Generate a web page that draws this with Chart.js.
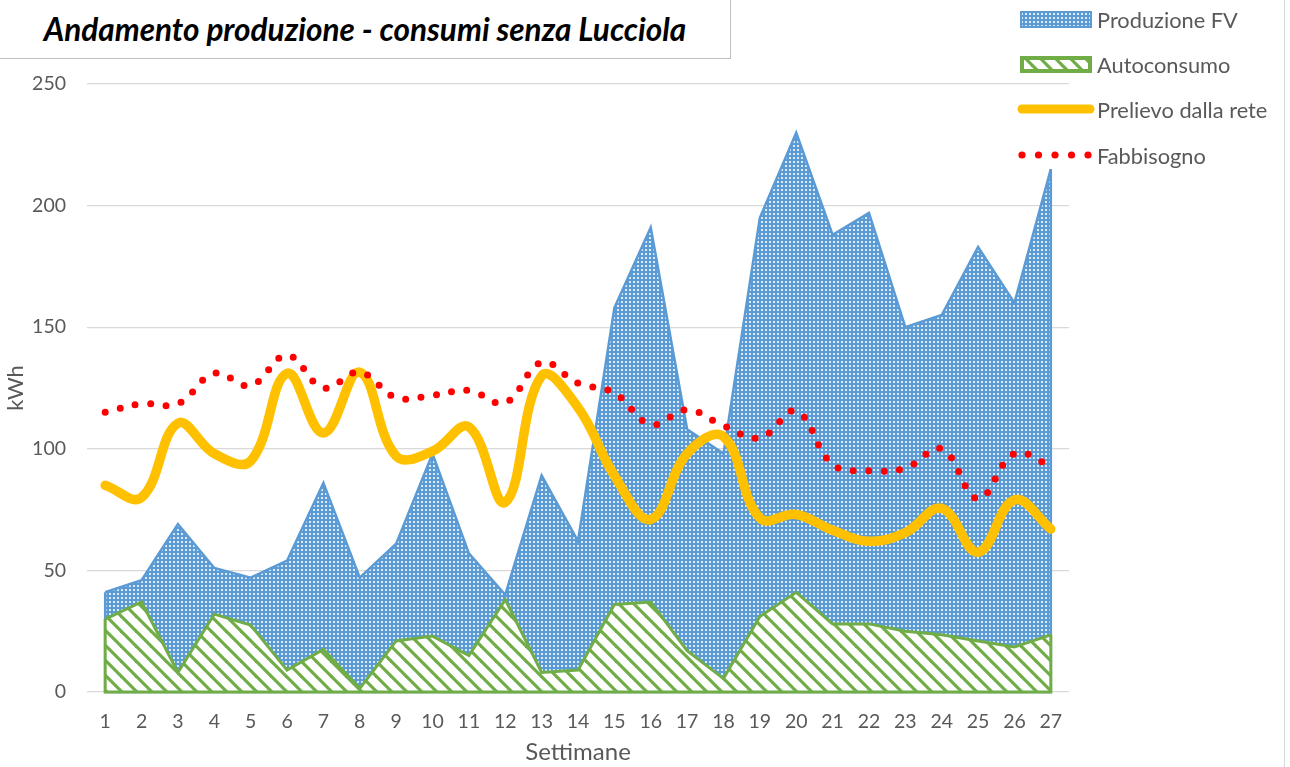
<!DOCTYPE html>
<html>
<head>
<meta charset="utf-8">
<title>Andamento produzione - consumi senza Lucciola</title>
<script src="https://cdn.jsdelivr.net/npm/chart.js@4.4.1/dist/chart.umd.min.js"></script>
<style>
    body { margin: 0; background: #fff; font-family: Lato, "Open Sans", sans-serif; }
    #page { position: relative; width: 1290px; height: 767px; overflow: hidden; }
    #chartBox { position: absolute; left: 0; top: 0; width: 1290px; height: 767px; }
    #titleBox {
        position: absolute; left: -1px; top: -1px; width: 730px; height: 58px;
        border: 1px solid #BFBFBF; background: #fff;
        display: flex; align-items: center; justify-content: center;
        font-weight: bold; font-style: italic; font-size: 31.5px; color: #000;
    }
    #rightBorder { position: absolute; left: 1284px; top: 0; width: 1px; height: 767px; background: #D9D9D9; }
    .legItem { position: absolute; left: 1016px; height: 30px; display: flex; align-items: center; }
    .legItem canvas { width: 80px; height: 30px; }
    .legItem span { margin-left: 1px; font-size: 21.8px; color: #595959; }
</style>
</head>
<body>
<div id="page">
    <div id="chartBox"><canvas id="prodChart" width="1290" height="767"></canvas></div>
    <div id="titleBox">Andamento produzione - consumi senza Lucciola</div>
    <div id="rightBorder"></div>
    <div class="legItem" style="top:4px"><canvas id="leg0" width="80" height="30"></canvas><span>Produzione FV</span></div>
    <div class="legItem" style="top:49px"><canvas id="leg1" width="80" height="30"></canvas><span>Autoconsumo</span></div>
    <div class="legItem" style="top:94px"><canvas id="leg2" width="80" height="30"></canvas><span>Prelievo dalla rete</span></div>
    <div class="legItem" style="top:140px"><canvas id="leg3" width="80" height="30"></canvas><span>Fabbisogno</span></div>
</div>
<script>
// Dati settimanali (kWh)
const settimane = ['1','2','3','4','5','6','7','8','9','10','11','12','13','14','15','16','17','18','19','20','21','22','23','24','25','26','27'];
const produzioneFV = [41, 46, 69, 51, 47, 54, 86, 47, 61, 98, 57, 40, 89, 62, 158, 191, 108, 98, 195, 230, 188, 197, 150, 155, 183, 160, 215];
const autoconsumo = [30, 37, 8, 32, 27.5, 9, 17.5, 1.5, 21, 23, 15, 38, 8, 9, 36, 37, 17, 5.5, 31, 41, 28, 28, 25, 23.5, 21, 18.5, 23.5];
const prelievo = [85, 80, 110.5, 98, 95, 131, 106.5, 131.5, 97, 99, 109, 78, 130, 117, 89, 71, 98, 105, 71.5, 73, 66.5, 62, 65.5, 75.5, 57.5, 79, 67];
const fabbisogno = [115, 118.5, 118.5, 131, 126, 138.5, 125, 131.5, 121, 122, 124, 119, 135.5, 127, 123, 110, 116, 109.5, 104.5, 115.5, 93.5, 91, 92, 100, 79.5, 98, 93];
const yTicks = [0, 50, 100, 150, 200, 250];

// Colori
const blu = '#5B9BD5';
const verde = '#70AD47';
const giallo = '#FFC000';
const rosso = '#FF0000';

// Trama a puntini per la produzione
function makeDotPattern() {
    const c = document.createElement('canvas');
    c.width = 4; c.height = 4;
    const g = c.getContext('2d');
    g.fillStyle = blu;
    g.fillRect(0, 0, 4, 4);
    g.fillStyle = 'rgba(255,255,255,0.8)';
    g.fillRect(1, 1, 2, 2);
    return g.createPattern(c, 'repeat');
}

// Trama a righe diagonali per l'autoconsumo
function makeStripePattern() {
    const s = 15;
    const c = document.createElement('canvas');
    c.width = s; c.height = s;
    const g = c.getContext('2d');
    g.fillStyle = '#fff';
    g.fillRect(0, 0, s, s);
    g.strokeStyle = verde;
    g.lineWidth = 3.2;
    for (let k = -1; k <= 1; k++) {
        g.beginPath();
        g.moveTo(-2, k * s - 2);
        g.lineTo(s + 2, k * s + s + 2);
        g.stroke();
    }
    return g.createPattern(c, 'repeat');
}

const dotPattern = makeDotPattern();
const stripePattern = makeStripePattern();

// Bordo laterale e inferiore delle aree (come in Excel)
const areaEdges = {
    id: 'areaEdges',
    afterDatasetDraw(chart, args) {
        const ds = chart.data.datasets[args.index];
        if (!ds.fill) return;
        const pts = args.meta.data;
        const y0 = chart.scales.y.getPixelForValue(0);
        const c = chart.ctx;
        c.save();
        c.strokeStyle = ds.borderColor;
        c.lineWidth = ds.borderWidth;
        c.beginPath();
        c.moveTo(pts[0].x, pts[0].y);
        c.lineTo(pts[0].x, y0);
        c.lineTo(pts[pts.length - 1].x, y0);
        c.lineTo(pts[pts.length - 1].x, pts[pts.length - 1].y);
        c.stroke();
        c.restore();
    }
};

const ctx = document.getElementById('prodChart').getContext('2d');

const data = {
    labels: settimane,
    datasets: [
        {
            label: 'Fabbisogno',
            data: fabbisogno,
            borderColor: rosso,
            borderWidth: 7,
            borderDash: [0, 15.5],
            borderCapStyle: 'round',
            tension: 0.4,
            pointRadius: 0,
            fill: false,
            order: 0
        },
        {
            label: 'Prelievo dalla rete',
            data: prelievo,
            borderColor: giallo,
            borderWidth: 9.5,
            borderCapStyle: 'round',
            borderJoinStyle: 'round',
            tension: 0.4,
            pointRadius: 0,
            fill: false,
            order: 1
        },
        {
            label: 'Autoconsumo',
            data: autoconsumo,
            borderColor: verde,
            backgroundColor: stripePattern,
            borderWidth: 3,
            tension: 0,
            pointRadius: 0,
            fill: 'origin',
            order: 2
        },
        {
            label: 'Produzione FV',
            data: produzioneFV,
            borderColor: blu,
            backgroundColor: dotPattern,
            borderWidth: 2.5,
            tension: 0,
            pointRadius: 0,
            fill: 'origin',
            order: 3
        }
    ]
};

const config = {
    type: 'line',
    data: data,
    plugins: [areaEdges],
    options: {
        responsive: false,
        animation: false,
        layout: { padding: { top: 84, right: 221, left: 0, bottom: 0 } },
        plugins: {
            legend: { display: false },
            title: { display: false },
            tooltip: { enabled: false }
        },
        scales: {
            x: {
                type: 'category',
                offset: true,
                grid: { display: false, drawTicks: false },
                border: { display: false },
                ticks: {
                    color: '#595959',
                    font: { family: 'Lato', size: 19.5 },
                    padding: 18,
                    maxRotation: 0,
                    autoSkip: false
                },
                title: {
                    display: true,
                    text: 'Settimane',
                    color: '#595959',
                    font: { family: 'Lato', size: 24 },
                    padding: { top: 0, bottom: 0 }
                },
                afterFit: s => { s.height = 75; }
            },
            y: {
                min: 0,
                max: 250,
                afterBuildTicks: s => { s.ticks = yTicks.map(v => ({ value: v })); },
                grid: { color: '#D9D9D9', lineWidth: 1.3, drawTicks: false },
                border: { display: false },
                ticks: {
                    color: '#595959',
                    font: { family: 'Lato', size: 19.5 },
                    padding: 21
                },
                title: {
                    display: true,
                    text: 'kWh',
                    color: '#595959',
                    font: { family: 'Lato', size: 22 },
                    padding: { top: 3, bottom: 3 }
                },
                afterFit: s => { s.width = 87; }
            }
        }
    }
};

const prodChart = new Chart(ctx, config);

// Icone della legenda
function legendIcon(id, draw) {
    const g = document.getElementById(id).getContext('2d');
    draw(g);
}
legendIcon('leg0', g => {
    g.fillStyle = dotPattern;
    g.fillRect(5, 8, 70, 15);
    g.strokeStyle = blu; g.lineWidth = 2;
    g.strokeRect(5, 8, 70, 15);
});
legendIcon('leg1', g => {
    g.fillStyle = verde;
    g.fillRect(4, 7, 72, 17);
    g.fillStyle = stripePattern;
    g.fillRect(8, 11, 64, 9);
});
legendIcon('leg2', g => {
    g.strokeStyle = giallo; g.lineWidth = 9; g.lineCap = 'round';
    g.beginPath(); g.moveTo(6, 15); g.lineTo(74, 15); g.stroke();
});
legendIcon('leg3', g => {
    g.fillStyle = rosso;
    for (let i = 0; i < 5; i++) {
        g.beginPath(); g.arc(6 + i * 16.5, 15, 3.6, 0, Math.PI * 2); g.fill();
    }
});
</script>
</body>
</html>
